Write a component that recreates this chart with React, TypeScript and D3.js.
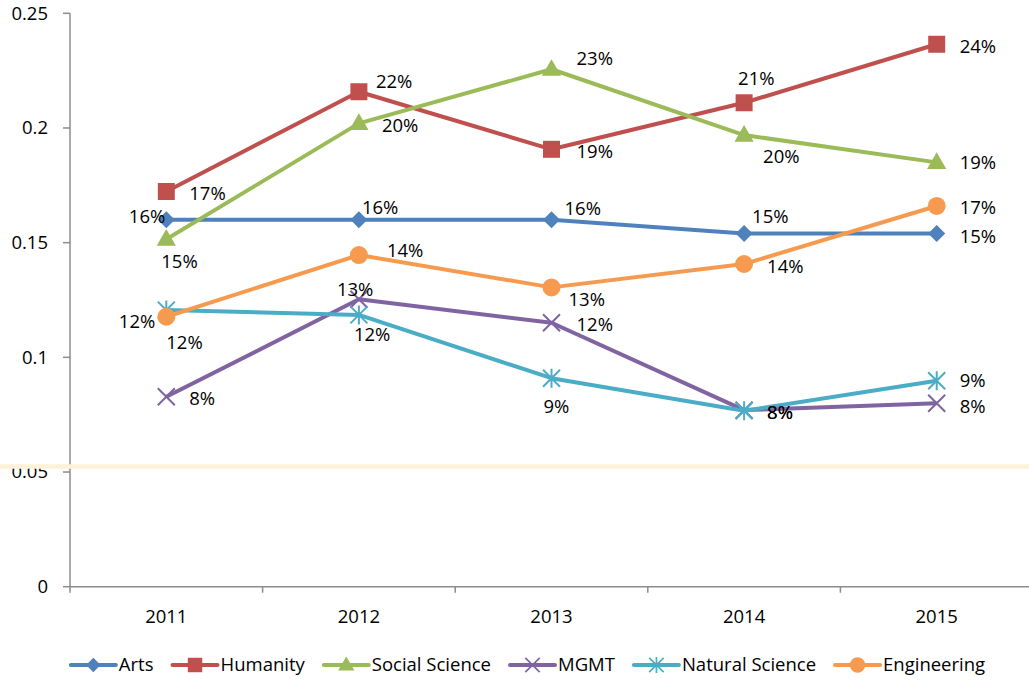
import React, { useMemo } from "react";
import * as d3 from "d3";

// chart values
const years = ["2011", "2012", "2013", "2014", "2015"];
const arts = [0.16, 0.16, 0.16, 0.154, 0.154];
const humanity = [0.1723, 0.2158, 0.1907, 0.211, 0.2365];
const socialScience = [0.1515, 0.202, 0.2256, 0.1969, 0.185];
const mgmt = [0.0828, 0.1253, 0.1151, 0.077, 0.08];
const naturalScience = [0.1206, 0.1185, 0.0909, 0.0767, 0.0898];
const engineering = [0.1177, 0.1446, 0.1305, 0.1407, 0.166];
const yTicks = [0, 0.05, 0.1, 0.15, 0.2, 0.25];

// where each data label sits relative to its point: [dx, dy, anchor]
type Place = [number, number, "start" | "end"];
const artsLabels: Place[] = [[-1, -3, "end"], [3, -12, "start"], [13, -11, "start"], [8, -17, "start"], [23, 3, "start"]];
const humanityLabels: Place[] = [[23, 2, "start"], [17, -10, "start"], [25, 2, "start"], [-6, -24, "start"], [23, 2, "start"]];
const socialLabels: Place[] = [[-5, 22, "start"], [23, 2, "start"], [25, -11, "start"], [19, 21, "start"], [23, 0, "start"]];
const mgmtLabels: Place[] = [[23, 2, "start"], [-22, -10, "start"], [25, 2, "start"], [23, 2, "start"], [23, 3, "start"]];
const naturalLabels: Place[] = [[0, 32, "start"], [-5, 20, "start"], [-8, 28, "start"], [23, 2, "start"], [23, 0, "start"]];
const engineeringLabels: Place[] = [[-11, 5, "end"], [28, -5, "start"], [17, 12, "start"], [23, 3, "start"], [23, 2, "start"]];

const W = 1029;
const H = 684;
const FONT = "'Open Sans', 'Noto Sans', sans-serif";
const FS = 18.5;

type Marker = "diamond" | "square" | "triangle" | "x" | "star" | "circle";

const series = [
  { name: "Arts", values: arts, color: "#4F81BD", marker: "diamond" as Marker, labels: artsLabels },
  { name: "Humanity", values: humanity, color: "#C0504D", marker: "square" as Marker, labels: humanityLabels },
  { name: "Social Science", values: socialScience, color: "#9BBB59", marker: "triangle" as Marker, labels: socialLabels },
  { name: "MGMT", values: mgmt, color: "#8064A2", marker: "x" as Marker, labels: mgmtLabels },
  { name: "Natural Science", values: naturalScience, color: "#4BACC6", marker: "star" as Marker, labels: naturalLabels },
  { name: "Engineering", values: engineering, color: "#F59A4F", marker: "circle" as Marker, labels: engineeringLabels },
];

function MarkerShape({ type, color, x, y, scale = 1 }: { type: Marker; color: string; x: number; y: number; scale?: number }) {
  const t = `translate(${x},${y}) scale(${scale})`;
  if (type === "diamond") {
    return <path transform={t + " rotate(45)"} d={d3.symbol(d3.symbolSquare, 144)()!} fill={color} />;
  }
  if (type === "square") {
    return <path transform={t} d={d3.symbol(d3.symbolSquare, 289)()!} fill={color} />;
  }
  if (type === "triangle") {
    return <path transform={t + " translate(0,1)"} d={d3.symbol(d3.symbolTriangle, 160)()!} fill={color} />;
  }
  if (type === "circle") {
    return <path transform={t} d={d3.symbol(d3.symbolCircle, 254)()!} fill={color} />;
  }
  const p = d3.path();
  const r = 8.5;
  p.moveTo(-r, -r);
  p.lineTo(r, r);
  p.moveTo(-r, r);
  p.lineTo(r, -r);
  if (type === "star") {
    p.moveTo(0, -r - 1);
    p.lineTo(0, r + 1);
  }
  return <path transform={t} d={p.toString()} fill="none" stroke={color} strokeWidth={2} />;
}

export default function App() {
  const x = d3.scalePoint<string>().domain(years).range([70, 1033]).padding(0.5);
  const y = d3.scaleLinear().domain([0, 0.25]).range([586.7, 13.3]);
  const pct = d3.format(".0%");
  const step = x.step();
  const boundaries = d3.range(years.length + 1).map((i) => 70 + i * step);

  const line = d3
    .line<number>()
    .x((_, i) => x(years[i])!)
    .y((v) => y(v));

  // legend layout from measured text widths
  const legend = useMemo(() => {
    const ctx = document.createElement("canvas").getContext("2d")!;
    ctx.font = `${FS}px ${FONT}`;
    const sample = 45;
    const gap = 19;
    const widths = series.map((s) => ctx.measureText(s.name).width);
    const total = widths.reduce((a, w) => a + sample + 3 + w, 0) + gap * (series.length - 1);
    let cx = 528 - total / 2;
    return series.map((s, i) => {
      const item = { s, x0: cx, tx: cx + sample + 3 };
      cx += sample + 3 + widths[i] + gap;
      return item;
    });
  }, []);

  const axisColor = "#8C8C8C";

  return (
    <svg width={W} height={H} style={{ position: "absolute", left: 0, top: 0, background: "#fff" }} fontFamily={FONT} fontSize={FS}>
      {/* y axis */}
      <line x1={70} x2={70} y1={y(0.25)} y2={y(0)} stroke={axisColor} strokeWidth={1.5} />
      {yTicks.map((t) => (
        <g key={t}>
          <line x1={63} x2={70} y1={y(t)} y2={y(t)} stroke={axisColor} strokeWidth={1.5} />
          <text x={48} y={y(t)} dy="0.35em" textAnchor="end" fill="#000">
            {String(t)}
          </text>
        </g>
      ))}
      {/* x axis */}
      <line x1={70} x2={W} y1={y(0)} y2={y(0)} stroke={axisColor} strokeWidth={1.5} />
      {boundaries.map((b, i) => (
        <line key={i} x1={b} x2={b} y1={y(0)} y2={y(0) + 6} stroke={axisColor} strokeWidth={1.5} />
      ))}
      {years.map((yr) => (
        <text key={yr} x={x(yr)} y={617} dy="0.35em" textAnchor="middle" fill="#000">
          {yr}
        </text>
      ))}

      {/* series lines and markers */}
      {series.map((s) => (
        <g key={s.name}>
          <path d={line(s.values)!} fill="none" stroke={s.color} strokeWidth={4} strokeLinejoin="round" />
          {s.values.map((v, i) => (
            <MarkerShape key={i} type={s.marker} color={s.color} x={x(years[i])!} y={y(v)} />
          ))}
        </g>
      ))}

      {/* data labels */}
      {series.map((s) =>
        s.values.map((v, i) => {
          const [dx, dy, anchor] = s.labels[i];
          return (
            <text key={s.name + i} x={x(years[i])! + dx} y={y(v) + dy} dy="0.35em" textAnchor={anchor} fill="#000">
              {pct(v)}
            </text>
          );
        })
      )}

      {/* pale highlight line across the chart */}
      <line x1={0} x2={W} y1={466.5} y2={466.5} stroke="#FDF1D8" strokeWidth={4.5} />

      {/* legend */}
      {legend.map(({ s, x0, tx }) => (
        <g key={s.name}>
          <line x1={x0} x2={x0 + 45} y1={665} y2={665} stroke={s.color} strokeWidth={4} strokeLinecap="round" />
          <MarkerShape type={s.marker} color={s.color} x={x0 + 22.5} y={665} scale={0.85} />
          <text x={tx} y={665} dy="0.35em" fill="#000">
            {s.name}
          </text>
        </g>
      ))}
    </svg>
  );
}
